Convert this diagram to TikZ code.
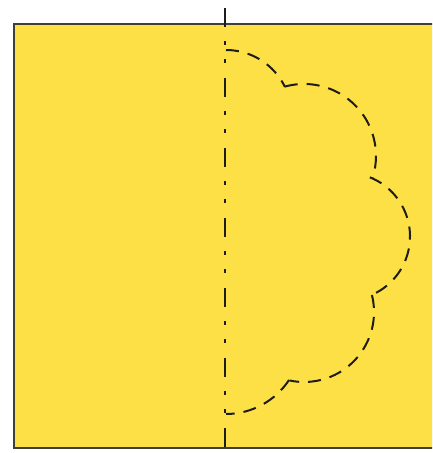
\documentclass[tikz,border=0pt]{standalone}
\usepackage{xcolor}
\definecolor{paper}{RGB}{252,224,70}
\definecolor{ink}{RGB}{30,28,20}
\tikzset{
  sheet/.style={fill=paper,draw=ink!85,line width=1.6pt},
  foldaxis/.style={draw=ink,line width=2pt,dash pattern=on 19pt off 14.5pt on 4pt off 14pt on 4pt off 14.5pt},
  cutline/.style={draw=ink,line width=2pt,dash pattern=on 13pt off 9pt},
}
\begin{document}
\begin{tikzpicture}[x=1pt,y=1pt]
\path[use as bounding box,clip] (0,0) rectangle (432,453);
\node[sheet,rectangle,minimum width=470pt,minimum height=424pt,inner sep=0pt,anchor=south west] (sheet) at (13,4) {};
% centres of the scallops
\coordinate (c1) at (226,337.5);
\coordinate (c2) at (304,297);
\coordinate (c3) at (346.3,216.5);
\coordinate (c4) at (304,141);
\coordinate (c5) at (226,114.4);
\draw[cutline] (c1) ++(90:65.5) arc[start angle=90,end angle=25.8,radius=65.5];
\draw[cutline] (c2) ++(105.4:72) arc[start angle=105.4,end angle=-17.4,radius=72];
\draw[cutline] (c3) ++(68.3:63.7) arc[start angle=68.3,end angle=-70,radius=63.7];
\draw[cutline] (c4) ++(14:70) arc[start angle=14,end angle=-102,radius=70];
\draw[cutline] (c5) ++(-33.3:75.4) arc[start angle=-33.3,end angle=-90,radius=75.4];
% fold axis
\coordinate (axtop) at (225,445);
\coordinate (axbot) at (225,5);
\draw[foldaxis] (axtop) -- (axbot);
\end{tikzpicture}
\end{document}
